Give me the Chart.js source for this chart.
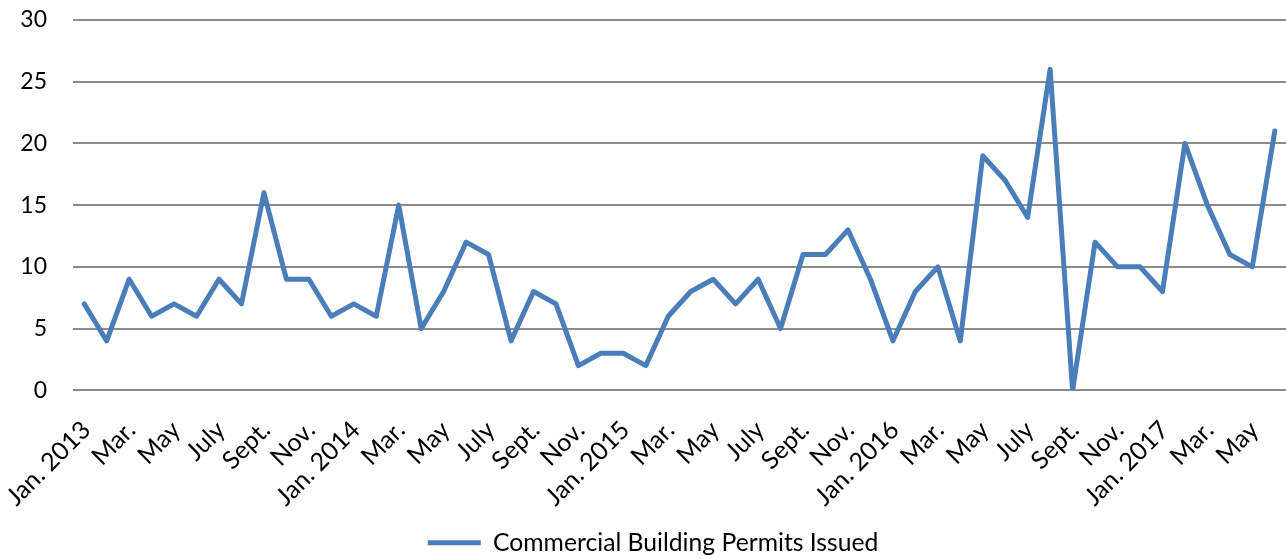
<!DOCTYPE html>
<html>
<head>
<meta charset="utf-8">
<script src="https://cdn.jsdelivr.net/npm/chart.js@4/dist/chart.umd.min.js"></script>
<style>
html,body{margin:0;padding:0;background:#fff;}
#wrap{width:1286px;height:559px;}
</style>
</head>
<body>
<div id="wrap"><canvas id="c" width="1286" height="559"></canvas></div>
<script>
const months = [
  'Jan. 2013','Feb.','Mar.','Apr.','May','June','July','Aug.','Sept.','Oct.','Nov.','Dec.',
  'Jan. 2014','Feb.','Mar.','Apr.','May','June','July','Aug.','Sept.','Oct.','Nov.','Dec.',
  'Jan. 2015','Feb.','Mar.','Apr.','May','June','July','Aug.','Sept.','Oct.','Nov.','Dec.',
  'Jan. 2016','Feb.','Mar.','Apr.','May','June','July','Aug.','Sept.','Oct.','Nov.','Dec.',
  'Jan. 2017','Feb.','Mar.','Apr.','May','June'
];
const permits = [
  7,4,9,6,7,6,9,7,16,9,9,6,
  7,6,15,5,8,12,11,4,8,7,2,3,
  3,2,6,8,9,7,9,5,11,11,13,9,
  4,8,10,4,19,17,14,26,0,12,10,10,
  8,20,15,11,10,21
];
const seriesName = 'Commercial Building Permits Issued';
const yMin = 0, yMax = 30, yStep = 5;

const FONT = "Lato, 'Open Sans', sans-serif";
const BLUE = '#4a7ebb';

new Chart(document.getElementById('c'), {
  type: 'line',
  data: {
    labels: months,
    datasets: [{
      label: seriesName,
      data: permits,
      borderColor: BLUE,
      backgroundColor: BLUE,
      borderWidth: 5,
      pointRadius: 0,
      pointHoverRadius: 0,
      tension: 0,
      borderJoinStyle: 'round',
      borderCapStyle: 'round'
    }]
  },
  options: {
    responsive: false,
    animation: false,
    devicePixelRatio: 1,
    layout: { padding: { top: 20, right: 0, left: 20, bottom: -6 } },
    plugins: {
      tooltip: { enabled: false },
      legend: {
        position: 'bottom',
        labels: {
          font: { family: FONT, size: 24.7 },
          color: '#000',
          boxWidth: 53,
          boxHeight: 5,
          padding: 5,
          generateLabels: (chart) => [{
            text: seriesName,
            fillStyle: BLUE,
            strokeStyle: BLUE,
            lineWidth: 0,
            datasetIndex: 0
          }]
        }
      }
    },
    scales: {
      x: {
        offset: true,
        grid: { display: false, drawTicks: false },
        border: { display: false },
        afterFit: (s) => { s.paddingLeft = 0; s.paddingRight = 0; s.height = 135; },
        ticks: {
          autoSkip: false,
          maxRotation: 45,
          minRotation: 45,
          padding: 25,
          labelOffset: 2,
          color: '#000',
          font: { family: FONT, size: 25 },
          callback: function(v, i) { return i % 2 === 0 ? months[i] : ''; }
        }
      },
      y: {
        min: yMin,
        max: yMax,
        grid: { color: '#8c8c8c', lineWidth: 2, drawTicks: false },
        border: { display: false },
        afterFit: (s) => { s.paddingTop = 0; s.paddingBottom = 0; s.width = 53; },
        ticks: {
          stepSize: yStep,
          padding: 26,
          color: '#000',
          font: { family: FONT, size: 23 }
        }
      }
    }
  }
});
</script>
</body>
</html>
